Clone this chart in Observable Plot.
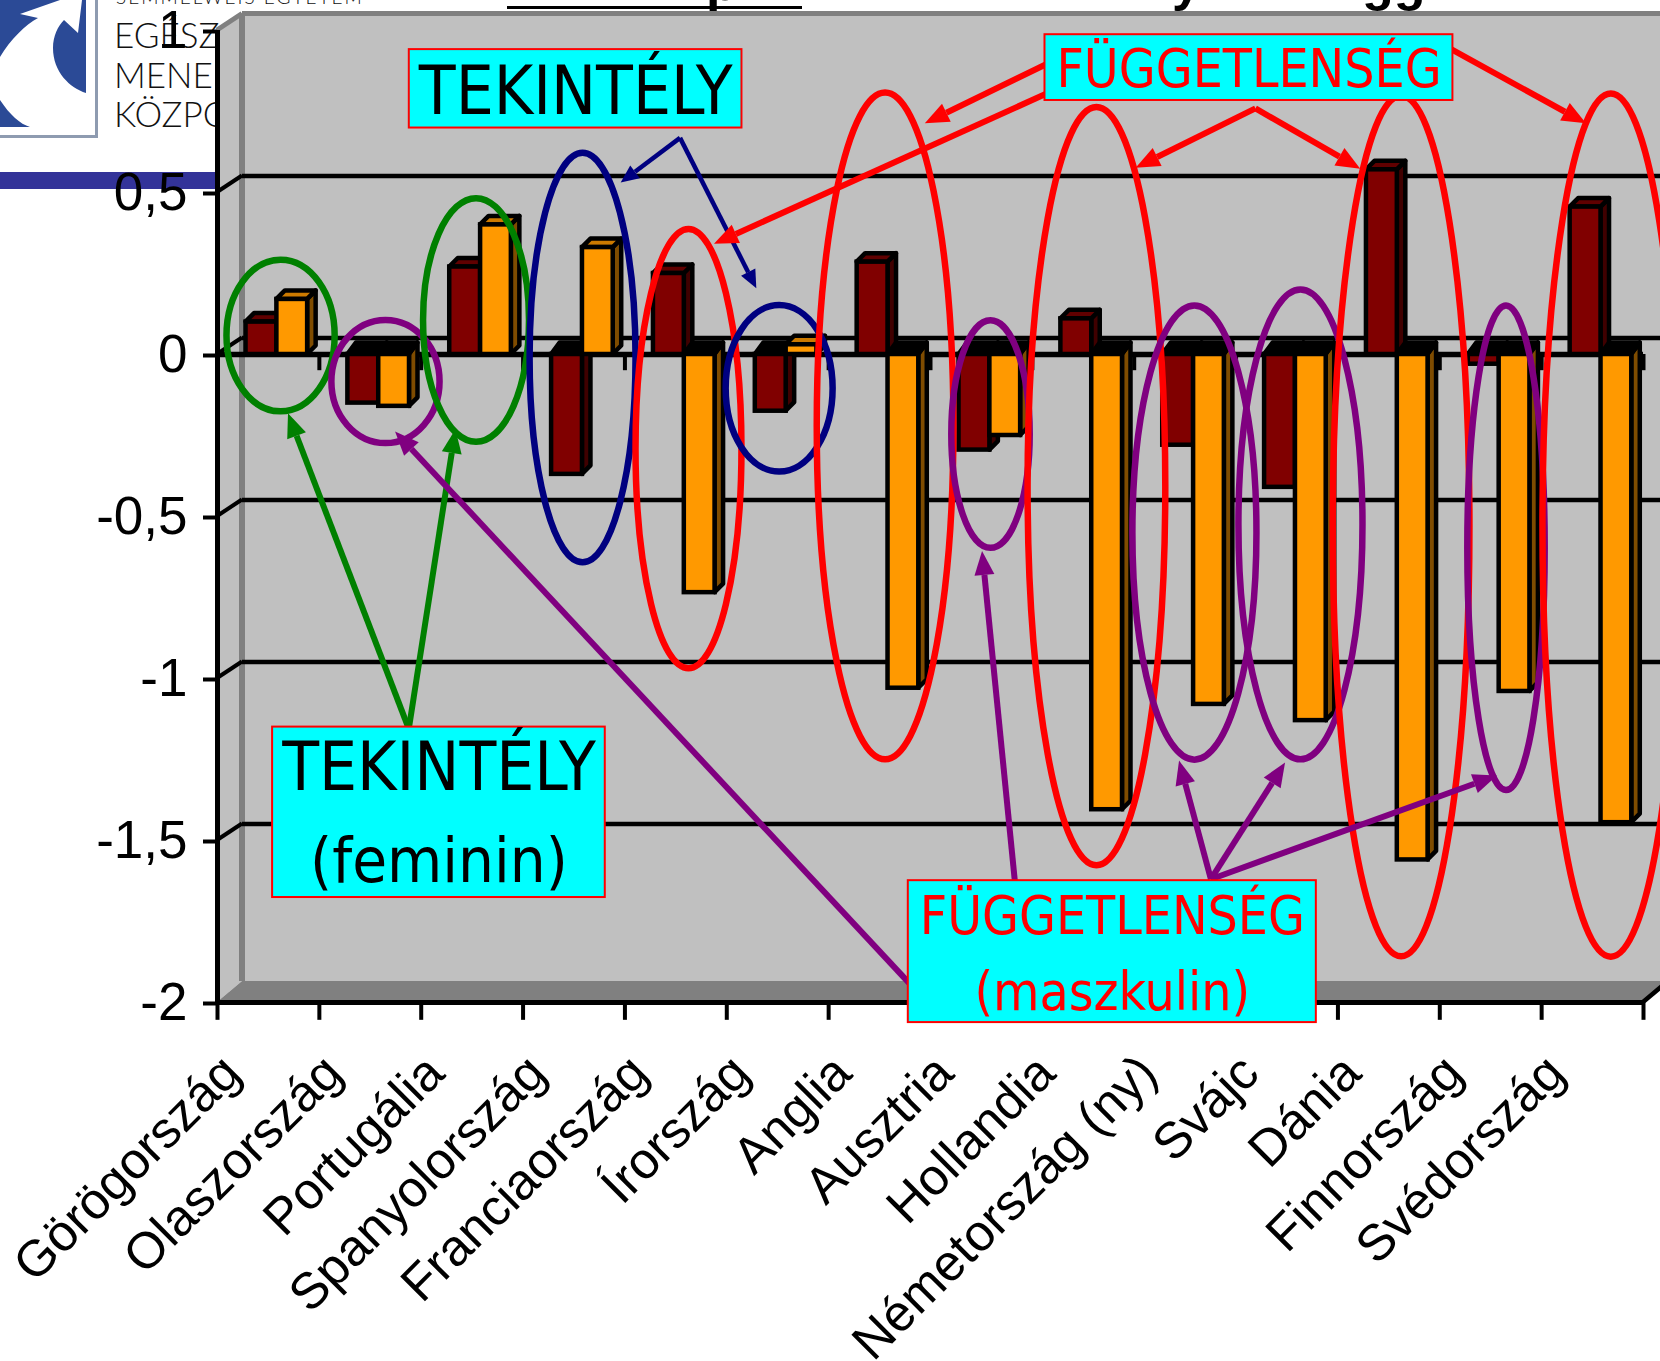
<!DOCTYPE html>
<html><head><meta charset="utf-8">
<script src="https://cdn.jsdelivr.net/npm/d3@7"></script>
<script src="https://cdn.jsdelivr.net/npm/@observablehq/plot@0.6"></script>
<style>
html,body{margin:0;padding:0;background:#fff;overflow:hidden}
#page{position:relative;width:1660px;height:1361px;overflow:hidden}
#back{position:absolute;left:0;top:0}
#chart{position:absolute;left:0;top:0}
</style></head><body>
<div id="page">
<svg id="back" width="1660" height="200" xmlns="http://www.w3.org/2000/svg">
  <g fill="#2b4a96">
    <path d="M0,0H60L20,14L38,18C26,24 10,40 0,57Z"/>
    <path d="M86,0V93C70,88 53,72 53,48C53,36 58,26 64,20L78,33L82,0Z"/>
    <path d="M0,100C10,115 20,124 30,127H0Z"/>
  </g>
  <rect x="0" y="135" width="97" height="3" fill="#8e9bb0"/>
  <rect x="95" y="0" width="3" height="138" fill="#8e9bb0"/>
  <rect x="0" y="172" width="217" height="17" fill="#333399"/>
  <g font-family="Lato, 'Noto Sans', sans-serif" font-size="35" font-weight="300" fill="#111">
    <text x="114" y="48">EGÉSZ</text>
    <text x="114" y="88">MENED</text>
    <text x="114" y="127">KÖZPO</text>
    <text x="116" y="4" font-size="19" letter-spacing="2">SEMMELWEIS EGYETEM</text>
  </g>
  <g font-family="'Liberation Sans',Arial,sans-serif" font-weight="bold" font-size="52" fill="#000">
    <text x="706" y="0">p</text>
    <text x="1172" y="0">y</text>
    <text x="1362" y="0">gg</text>
  </g>
  <rect x="507" y="6" width="295" height="3" fill="#000"/>
</svg>
<div id="chart"></div>
</div>
<script>
const countries = ["Görögország","Olaszország","Portugália","Spanyolország","Franciaország","Írország","Anglia","Ausztria","Hollandia","Németország (ny)","Svájc","Dánia","Finnország","Svédország"];
const seriesA = [0.10,-0.15,0.27,-0.37,0.25,-0.175,0.285,-0.295,0.11,-0.28,-0.41,0.57,-0.03,0.455];
const seriesB = [0.17,-0.16,0.40,0.33,-0.735,0.03,-1.03,-0.25,-1.405,-1.08,-1.13,-1.56,-1.04,-1.445];
const yTicks = [1,0.5,0,-0.5,-1,-1.5,-2];
const wallLines = [0.5,0,-0.5,-1,-1.5];
// annotations, in chart units: [colour, cx, cy, rx, ry]
const ellipses = [
 ["#008000",0.624,0.057,0.531,0.234],["#800080",1.654,-0.085,0.531,0.190],["#008000",2.543,0.105,0.520,0.376],
 ["#000080",3.589,-0.011,0.520,0.632],["#ff0000",4.629,-0.292,0.520,0.678],["#000080",5.519,-0.106,0.525,0.257],
 ["#ff0000",6.559,-0.222,0.671,1.029],["#800080",7.594,-0.247,0.385,0.351],["#ff0000",8.634,-0.408,0.676,1.170],
 ["#800080",9.596,-0.551,0.609,0.701],["#800080",10.637,-0.526,0.609,0.725],["#ff0000",11.625,-0.531,0.671,1.328],
 ["#800080",12.655,-0.598,0.380,0.748],["#ff0000",13.684,-0.528,0.671,1.332]];
// [colour, x1, y1, x2, y2]
const arrows = [
 ["#008000",1.883,-1.157,0.697,-0.183],["#008000",1.883,-1.157,2.341,-0.232],
 ["#800080",6.814,-1.948,1.748,-0.239],["#800080",7.833,-1.627,7.511,-0.608],
 ["#800080",9.758,-1.621,9.445,-1.255],["#800080",9.758,-1.621,10.486,-1.261],["#800080",9.758,-1.621,12.566,-1.301],
 ["#000080",4.546,0.667,3.963,0.529],["#000080",4.546,0.667,5.295,0.203],
 ["#ff0000",8.145,0.895,6.949,0.712],["#ff0000",8.145,0.804,4.879,0.340],
 ["#ff0000",10.195,0.758,9.019,0.575],["#ff0000",10.195,0.758,11.224,0.572],["#ff0000",12.098,0.944,13.440,0.712]];
const boxes = [
 {x1:1.883,x2:5.149,y1:0.941,y2:0.699},{x1:8.124,x2:12.129,y1:0.987,y2:0.784},
 {x1:0.541,x2:3.807,y1:-1.150,y2:-1.676},{x1:6.782,x2:10.788,y1:-1.624,y2:-2.062}];
const labels = [
 {t:"TEKINTÉLY",x:3.516,y:0.810,c:"#000",s:67},{t:"FÜGGETLENSÉG",x:10.127,y:0.879,c:"#f00",s:53},
 {t:"TEKINTÉLY",x:2.174,y:-1.278,c:"#000",s:67},{t:"(feminin)",x:2.174,y:-1.565,c:"#000",s:63},
 {t:"FÜGGETLENSÉG",x:8.785,y:-1.735,c:"#f00",s:53},{t:"(maszkulin)",x:8.785,y:-1.971,c:"#f00",s:53}];

const DX = 25, DY = -16.5;       // wall depth
const BX = 8.5, BY = -8.5;       // bar depth
const bars = [];
countries.forEach((c,i)=>{
  bars.push({i,x1:i+0.28,x2:i+0.583,v:seriesA[i],fill:"#800000",top:"#600000",side:"#400000"});
  bars.push({i,x1:i+0.583,x2:i+0.885,v:seriesB[i],fill:"#ff9900",top:"#cc7a00",side:"#7f4c00"});
});
const poly = (g,pts,fill,stroke,sw)=> g.append("polygon").attr("points",pts.map(p=>p.join(",")).join(" ")).attr("fill",fill)
   .attr("stroke",stroke||"none").attr("stroke-width",sw||0).attr("stroke-linejoin","round");

function shell(index,{x,y}){
  const g=d3.create("svg:g");
  const x0=x(0),x1=x(14),yt=y(1),yb=y(-2);
  poly(g,[[x0,yt],[x0+DX,yt+DY],[x0+DX,yb-21],[x0,yb]],"#c0c0c0");
  poly(g,[[x0,yb],[x0+DX,yb-21],[x1+DX,yb-21],[x1,yb]],"#808080");
  g.append("line").attr("x1",x0).attr("y1",yt).attr("x2",x0+DX).attr("y2",yt+DY).attr("stroke","#808080").attr("stroke-width",5);
  g.append("line").attr("x1",x0+DX).attr("y1",yt+DY).attr("x2",x1+DX).attr("y2",yt+DY).attr("stroke","#808080").attr("stroke-width",5);
  g.append("line").attr("x1",x0+DX).attr("y1",yt+DY).attr("x2",x0+DX).attr("y2",yb-21).attr("stroke","#808080").attr("stroke-width",6);
  wallLines.forEach(v=>g.append("line").attr("x1",x0).attr("y1",y(v)).attr("x2",x0+DX).attr("y2",y(v)+DY).attr("stroke","#000").attr("stroke-width",4));
  g.append("line").attr("x1",x1).attr("y1",yb).attr("x2",x1+DX).attr("y2",yb-21).attr("stroke","#000").attr("stroke-width",4.5);
  return g.node();
}
function depth(index,{x,y}){
  const g=d3.create("svg:g");
  bars.forEach(b=>{
    const l=x(b.x1),r=x(b.x2),t=y(Math.max(b.v,0)),z=y(Math.min(b.v,0));
    const by=b.v<0?BY-3:BY;
    poly(g,[[r,t],[r+BX,t+by],[r+BX,z+BY],[r,z]],b.side,"#000",4.5);
    poly(g,[[l,t],[l+BX,t+by],[r+BX,t+by],[r,t]],b.v<0?"#000":b.top,"#000",4.5);
  });
  return g.node();
}
function rings(index,{x,y}){
  const g=d3.create("svg:g").attr("fill","none").attr("stroke-width",6.5);
  ellipses.forEach(([c,cx,cy,rx,ry])=>g.append("ellipse").attr("cx",x(cx)).attr("cy",y(cy))
    .attr("rx",x(cx+rx)-x(cx)).attr("ry",y(cy-ry)-y(cy)).attr("stroke",c));
  return g.node();
}
function pointers(index,{x,y}){
  const g=d3.create("svg:g");
  arrows.forEach(([c,a,b,e,f])=>{
    const x1=x(a),y1=y(b),x2=x(e),y2=y(f),L=Math.hypot(x2-x1,y2-y1),ux=(x2-x1)/L,uy=(y2-y1)/L;
    const hl=c==="#000080"?18:24,hw=c==="#000080"?8:10;
    const bx=x2-ux*hl,by=y2-uy*hl;
    g.append("line").attr("x1",x1).attr("y1",y1).attr("x2",bx).attr("y2",by).attr("stroke",c).attr("stroke-width",c==="#000080"?4.5:6);
    poly(g,[[x2,y2],[bx-uy*hw,by+ux*hw],[bx+uy*hw,by-ux*hw]],c);
  });
  return g.node();
}

const chart = Plot.plot({
  width:1660,height:1361,
  marginLeft:217,marginRight:17,marginTop:30,marginBottom:359,
  style:{background:"transparent",overflow:"hidden"},
  x:{type:"linear",domain:[0,14],range:[217,1643]},
  y:{type:"linear",domain:[-2,1],range:[1002,30]},
  marks:[
    Plot.rect([{x1:0,x2:14,y1:-2,y2:1}],{x1:"x1",x2:"x2",y1:"y1",y2:"y2",fill:"#c0c0c0",dx:DX,dy:DY}),
    shell,
    Plot.ruleY(wallLines,{x1:0,x2:15,stroke:"#000",strokeWidth:4.5,dx:DX,dy:DY}),
    Plot.ruleY([0],{x1:0,x2:14,stroke:"#000",strokeWidth:5.5}),
    Plot.ruleX(d3.range(15),{y1:0,y2:-0.05,stroke:"#000",strokeWidth:4}),
    depth,
    Plot.rect(bars,{x1:"x1",x2:"x2",y1:d=>0,y2:"v",fill:"fill",stroke:"#000",strokeWidth:4.5}),
    Plot.ruleX([0],{y1:-2,y2:1,stroke:"#000",strokeWidth:5}),
    Plot.ruleY([-2],{x1:0,x2:14,stroke:"#000",strokeWidth:5}),
    Plot.axisY({ticks:yTicks,tickFormat:d=>String(d).replace(".",","),anchor:"left",label:null,fontSize:53,tickSize:14,tickPadding:16,dy:1,stroke:"#000",strokeWidth:4,fontFamily:"'Liberation Sans',Arial,sans-serif"}),
    Plot.ruleX(d3.range(15),{y1:-2,y2:-2.055,stroke:"#000",strokeWidth:4}),
    Plot.axisX({ticks:d3.range(14),tickFormat:i=>countries[i],anchor:"bottom",label:null,tickSize:0,tickRotate:-45,fontSize:51,textAnchor:"end",dx:14,dy:50,fontFamily:"'Liberation Sans',Arial,sans-serif"}),
    rings,
    pointers,
    Plot.rect(boxes,{x1:"x1",x2:"x2",y1:"y1",y2:"y2",fill:"#00ffff",stroke:"#ff0000",strokeWidth:2}),
    Plot.text(labels,{x:"x",y:"y",text:"t",fill:"c",fontSize:"s",fontFamily:"'DejaVu Sans Condensed','DejaVu Sans',sans-serif"})
  ]
});
document.getElementById("chart").append(chart);
</script>
</body></html>
